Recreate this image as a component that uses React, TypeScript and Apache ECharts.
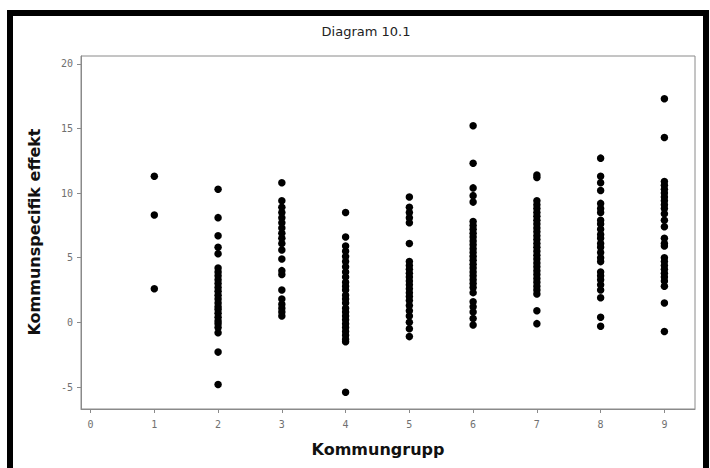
import React, { useEffect, useRef } from "react";
import * as echarts from "echarts";

const groups = [1, 2, 3, 4, 5, 6, 7, 8, 9];
const g1 = [11.3, 8.3, 2.6];
const g2 = [10.3, 8.1, 6.7, 5.8, 5.3, 4.2, 3.9, 3.6, 3.3, 3.0, 2.7, 2.4, 2.1, 1.8, 1.5, 1.2, 1.0, 0.7, 0.4, 0.1, -0.1, -0.4, -0.8, -2.3, -4.8];
const g3 = [10.8, 9.4, 8.9, 8.5, 8.1, 7.7, 7.3, 6.9, 6.5, 6.1, 5.6, 4.9, 4.0, 3.7, 2.5, 1.8, 1.4, 1.1, 0.8, 0.5];
const g4 = [8.5, 6.6, 5.9, 5.5, 5.1, 4.7, 4.3, 3.9, 3.5, 3.1, 2.8, 2.5, 2.1, 1.8, 1.5, 1.1, 0.8, 0.5, 0.2, -0.1, -0.4, -0.7, -1.0, -1.3, -1.5, -5.4];
const g5 = [9.7, 8.9, 8.5, 8.1, 7.7, 6.1, 4.7, 4.4, 4.1, 3.8, 3.5, 3.2, 2.9, 2.6, 2.3, 2.0, 1.7, 1.3, 0.9, 0.5, 0.0, -0.5, -1.1];
const g6 = [15.2, 12.3, 10.4, 9.8, 9.3, 7.8, 7.5, 7.2, 6.9, 6.6, 6.3, 6.0, 5.7, 5.4, 5.1, 4.8, 4.5, 4.2, 3.9, 3.6, 3.3, 3.0, 2.7, 2.3, 1.6, 1.2, 0.8, 0.3, -0.2];
const g7 = [11.4, 11.2, 9.4, 9.1, 8.8, 8.5, 8.2, 7.9, 7.6, 7.3, 7.0, 6.7, 6.4, 6.1, 5.8, 5.5, 5.2, 4.9, 4.6, 4.3, 4.0, 3.7, 3.4, 3.1, 2.8, 2.5, 2.2, 0.9, -0.1];
const g8 = [12.7, 11.3, 10.8, 10.2, 9.2, 8.8, 8.5, 7.9, 7.6, 7.2, 6.8, 6.5, 6.1, 5.8, 5.4, 5.0, 4.7, 3.9, 3.6, 3.3, 2.9, 2.5, 1.9, 0.4, -0.3];
const g9 = [17.3, 14.3, 10.9, 10.6, 10.3, 10.0, 9.7, 9.4, 9.1, 8.8, 8.4, 7.9, 7.4, 6.5, 6.1, 5.9, 5.0, 4.7, 4.4, 4.1, 3.8, 3.5, 3.2, 2.8, 1.5, -0.7];
const groupValues = [g1, g2, g3, g4, g5, g6, g7, g8, g9];

const xTicks = [0, 1, 2, 3, 4, 5, 6, 7, 8, 9];
const yTicks = [-5, 0, 5, 10, 15, 20];

const title = "Diagram 10.1";
const xTitle = "Kommungrupp";
const yTitle = "Kommunspecifik effekt";

export default function App() {
  const ref = useRef<HTMLDivElement>(null);
  useEffect(() => {
    if (!ref.current) return;
    const chart = echarts.init(ref.current, null, { renderer: "svg" });
    const points: number[][] = [];
    groups.forEach((g, i) => groupValues[i].forEach((v) => points.push([g, v])));
    const axisColor = "#8a8a8a";
    const labelStyle = {
      color: "#707070",
      fontSize: 10,
      fontFamily: "DejaVu Sans Mono",
    };
    chart.setOption({
      animation: false,
      backgroundColor: "#fff",
      grid: {
        left: 81,
        right: 15,
        top: 56,
        bottom: 59,
        show: true,
        borderColor: axisColor,
        borderWidth: 1,
      },
      xAxis: {
        type: "value",
        min: -0.15,
        max: 9.48,
        splitLine: { show: false },
        axisLine: { show: true, onZero: false, lineStyle: { color: axisColor } },
        axisTick: { show: true, length: 4, customValues: xTicks, lineStyle: { color: axisColor } },
        axisLabel: { ...labelStyle, margin: 10, customValues: xTicks },
      },
      yAxis: {
        type: "value",
        min: -6.7,
        max: 20.6,
        splitLine: { show: false },
        axisLine: { show: true, onZero: false, lineStyle: { color: axisColor } },
        axisTick: { show: true, length: 4, customValues: yTicks, lineStyle: { color: axisColor } },
        axisLabel: { ...labelStyle, margin: 8, customValues: yTicks },
      },
      graphic: [
        {
          type: "rect",
          shape: { x: 10, y: 13, width: 696, height: 480 },
          style: { fill: "none", stroke: "#000", lineWidth: 6 },
          silent: true,
        },
        {
          type: "text",
          x: 366,
          y: 31,
          style: {
            text: title,
            fill: "#222",
            font: "13px 'DejaVu Sans'",
            textAlign: "center",
            textVerticalAlign: "middle",
          },
        },
        {
          type: "text",
          x: 378,
          y: 449,
          style: {
            text: xTitle,
            fill: "#111",
            font: "bold 16px 'DejaVu Sans'",
            textAlign: "center",
            textVerticalAlign: "middle",
          },
        },
        {
          type: "text",
          x: 34,
          y: 232,
          rotation: Math.PI / 2,
          style: {
            text: yTitle,
            fill: "#111",
            font: "bold 16px 'DejaVu Sans'",
            textAlign: "center",
            textVerticalAlign: "middle",
          },
        },
      ],
      series: [
        {
          type: "scatter",
          data: points,
          symbol: "circle",
          symbolSize: 7.5,
          itemStyle: { color: "#000", opacity: 1 },
        },
      ],
    });
    return () => chart.dispose();
  }, []);
  return (
    <div
      ref={ref}
      style={{ position: "absolute", left: 0, top: 0, width: 710, height: 468 }}
    />
  );
}
